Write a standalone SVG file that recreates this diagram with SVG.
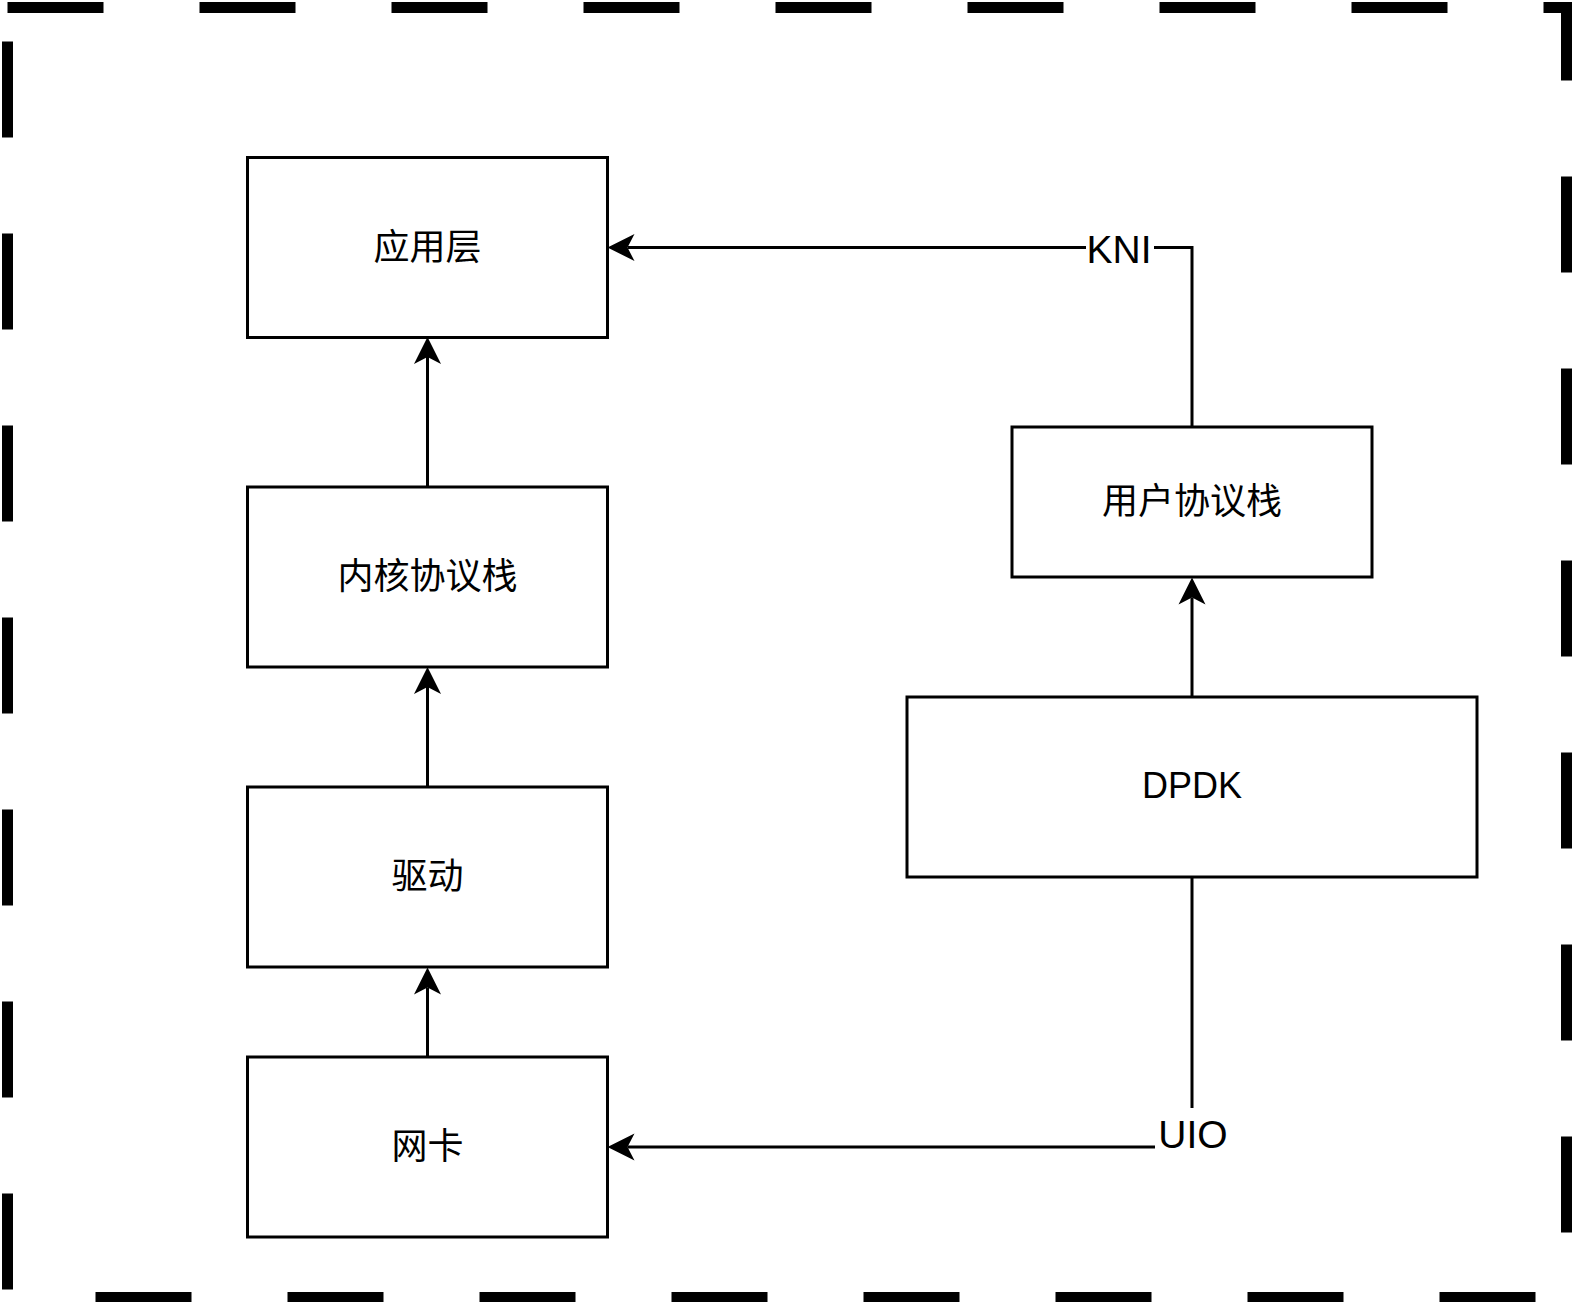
<svg xmlns="http://www.w3.org/2000/svg" width="1572" height="1302" viewBox="0 0 1572 1302">
  <defs>
    <marker id="arrow" viewBox="-30 -16 32 32" refX="-20" refY="0" markerWidth="32" markerHeight="32" markerUnits="userSpaceOnUse" orient="auto">
      <path d="M0,0 L-27,-13.5 L-20,0 L-27,13.5 Z" fill="#000"/>
    </marker>
    <style>
      .box { fill: #fff; stroke: #000; stroke-width: 3; }
      .lbl { font-family: "Liberation Sans", "Noto Sans CJK SC", sans-serif; font-size: 36px; fill: #000; text-anchor: middle; }
      .elbl { font-family: "Liberation Sans", "Noto Sans CJK SC", sans-serif; font-size: 39px; fill: #000; text-anchor: middle; }
      .edge { fill: none; stroke: #000; stroke-width: 3; }
    </style>
  </defs>
  <rect width="1572" height="1302" fill="#fff"/>
  <g id="frame">
    <rect x="7.5" y="7.5" width="1559" height="1290" fill="none" stroke="#000" stroke-width="11" stroke-dasharray="96 96"/>
  </g>
  <g id="connectors">
    <path class="edge" d="M427.5,1057 L427.5,987.5" marker-end="url(#arrow)"/>
    <path class="edge" d="M427.5,787 L427.5,687" marker-end="url(#arrow)"/>
    <path class="edge" d="M427.5,487 L427.5,357" marker-end="url(#arrow)"/>
    <path class="edge" d="M1192,697 L1192,597.5" marker-end="url(#arrow)"/>
    <path class="edge" d="M1192,427 L1192,247.5 L627.5,247.5" marker-end="url(#arrow)"/>
    <path class="edge" d="M1192,877 L1192,1147 L627.5,1147" marker-end="url(#arrow)"/>
    <rect x="1086" y="228" width="68" height="42" fill="#fff"/>
    <text class="elbl" x="1119" y="263">KNI</text>
    <rect x="1155" y="1108" width="76" height="50" fill="#fff"/>
    <text class="elbl" x="1193" y="1148">UIO</text>
  </g>
  <g id="node-app">
    <rect class="box" x="247.5" y="157.5" width="360" height="180"/>
    <text class="lbl" x="427.5" y="259.5">应用层</text>
  </g>
  <g id="node-kernel-stack">
    <rect class="box" x="247.5" y="487" width="360" height="180"/>
    <text class="lbl" x="427.5" y="589">内核协议栈</text>
  </g>
  <g id="node-driver">
    <rect class="box" x="247.5" y="787" width="360" height="180"/>
    <text class="lbl" x="427.5" y="889">驱动</text>
  </g>
  <g id="node-nic">
    <rect class="box" x="247.5" y="1057" width="360" height="180"/>
    <text class="lbl" x="427.5" y="1159">网卡</text>
  </g>
  <g id="node-user-stack">
    <rect class="box" x="1012" y="427" width="360" height="150"/>
    <text class="lbl" x="1192" y="514">用户协议栈</text>
  </g>
  <g id="node-dpdk">
    <rect class="box" x="907" y="697" width="570" height="180"/>
    <text class="lbl" x="1192" y="798">DPDK</text>
  </g>
</svg>
